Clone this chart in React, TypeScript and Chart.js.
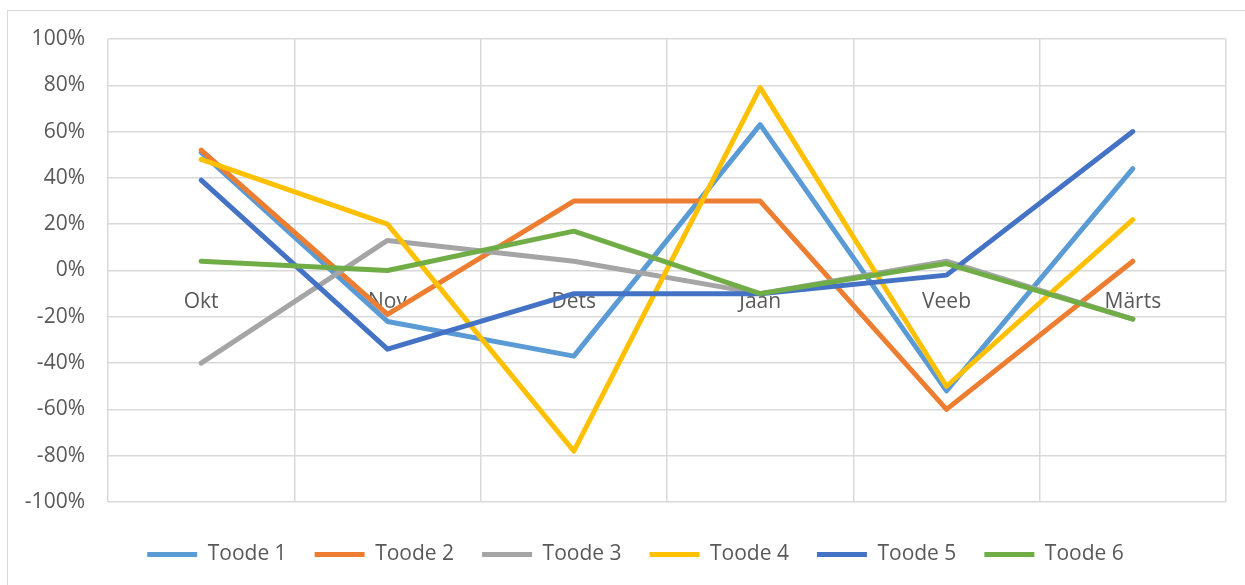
import { useEffect, useRef } from 'react';
import { Chart, registerables } from 'chart.js';

Chart.register(...registerables);

const categories = ['Okt', 'Nov', 'Dets', 'Jaan', 'Veeb', 'Märts'];
const seriesNames = ['Toode 1', 'Toode 2', 'Toode 3', 'Toode 4', 'Toode 5', 'Toode 6'];
const toode1 = [51, -22, -37, 63, -52, 44];
const toode2 = [52, -19, 30, 30, -60, 4];
const toode3 = [-40, 13, 4, -10, 4, -21];
const toode4 = [48, 20, -78, 79, -50, 22];
const toode5 = [39, -34, -10, -10, -2, 60];
const toode6 = [4, 0, 17, -10, 3, -21];
const seriesValues = [toode1, toode2, toode3, toode4, toode5, toode6];
const seriesColors = ['#5B9BD5', '#ED7D31', '#A5A5A5', '#FFC000', '#4472C4', '#70AD47'];
const yMin = -100;
const yMax = 100;
const yStep = 20;

const FONT = "'Open Sans', sans-serif";
const TEXT = '#595959';
const GRID = '#D9D9D9';
const FS = 21;

const frame = {
  id: 'frame',
  afterLayout(chart: any) {
    const lg = chart.legend;
    if (lg) {
      lg.left += 10;
      lg.right += 10;
      lg.top += 14;
      lg.bottom += 14;
    }
  },
  beforeDraw(chart: any) {
    const ctx = chart.ctx;
    ctx.save();
    ctx.fillStyle = '#ffffff';
    ctx.fillRect(0, 0, chart.width, chart.height);
    ctx.strokeStyle = GRID;
    ctx.lineWidth = 1;
    ctx.strokeRect(7.5, 10.5, 1400, 800);
    ctx.restore();
  },
};

export default function App() {
  const ref = useRef<HTMLCanvasElement>(null);
  useEffect(() => {
    const n = seriesValues.length;
    const chart = new Chart(ref.current!, {
      type: 'line',
      data: {
        labels: categories,
        datasets: seriesValues.map((d, i) => ({
          label: seriesNames[i],
          data: d,
          borderColor: seriesColors[i],
          backgroundColor: seriesColors[i],
          borderWidth: 5,
          pointRadius: 0,
          pointHoverRadius: 0,
          borderCapStyle: 'round',
          borderJoinStyle: 'round',
          tension: 0,
          fill: false,
          order: n - 1 - i,
        })),
      },
      options: {
        responsive: false,
        animation: false,
        devicePixelRatio: 1,
        layout: { padding: { left: 25, right: 19, top: 39, bottom: 24 } },
        plugins: {
          legend: {
            position: 'bottom',
            labels: {
              usePointStyle: true,
              pointStyle: 'line',
              pointStyleWidth: 50,
              padding: 28,
              color: TEXT,
              font: { size: FS, family: FONT },
              sort: (a: any, b: any) => a.datasetIndex - b.datasetIndex,
            },
          },
          tooltip: { enabled: false },
        },
        scales: {
          x: {
            position: { y: 0 } as any,
            offset: true,
            grid: { offset: true, color: GRID, lineWidth: 1.5, drawTicks: false },
            border: { display: false },
            ticks: { padding: 19, color: TEXT, font: { size: FS, family: FONT }, maxRotation: 0, autoSkip: false },
          },
          y: {
            min: yMin,
            max: yMax,
            grid: { color: GRID, lineWidth: 1.5, drawTicks: false },
            border: { display: false },
            ticks: {
              stepSize: yStep,
              padding: 23,
              color: TEXT,
              font: { size: FS, family: FONT },
              callback: (v: any) => `${v}%`,
            },
            afterFit: (s: any) => { s.width = 83; },
          },
        },
      },
      plugins: [frame],
    } as any);
    return () => chart.destroy();
  }, []);
  return (
    <div style={{ position: 'fixed', left: 0, top: 0, width: 1245, height: 585, background: '#fff' }}>
      <canvas ref={ref} width={1245} height={585} style={{ width: 1245, height: 585, display: 'block' }} />
    </div>
  );
}
